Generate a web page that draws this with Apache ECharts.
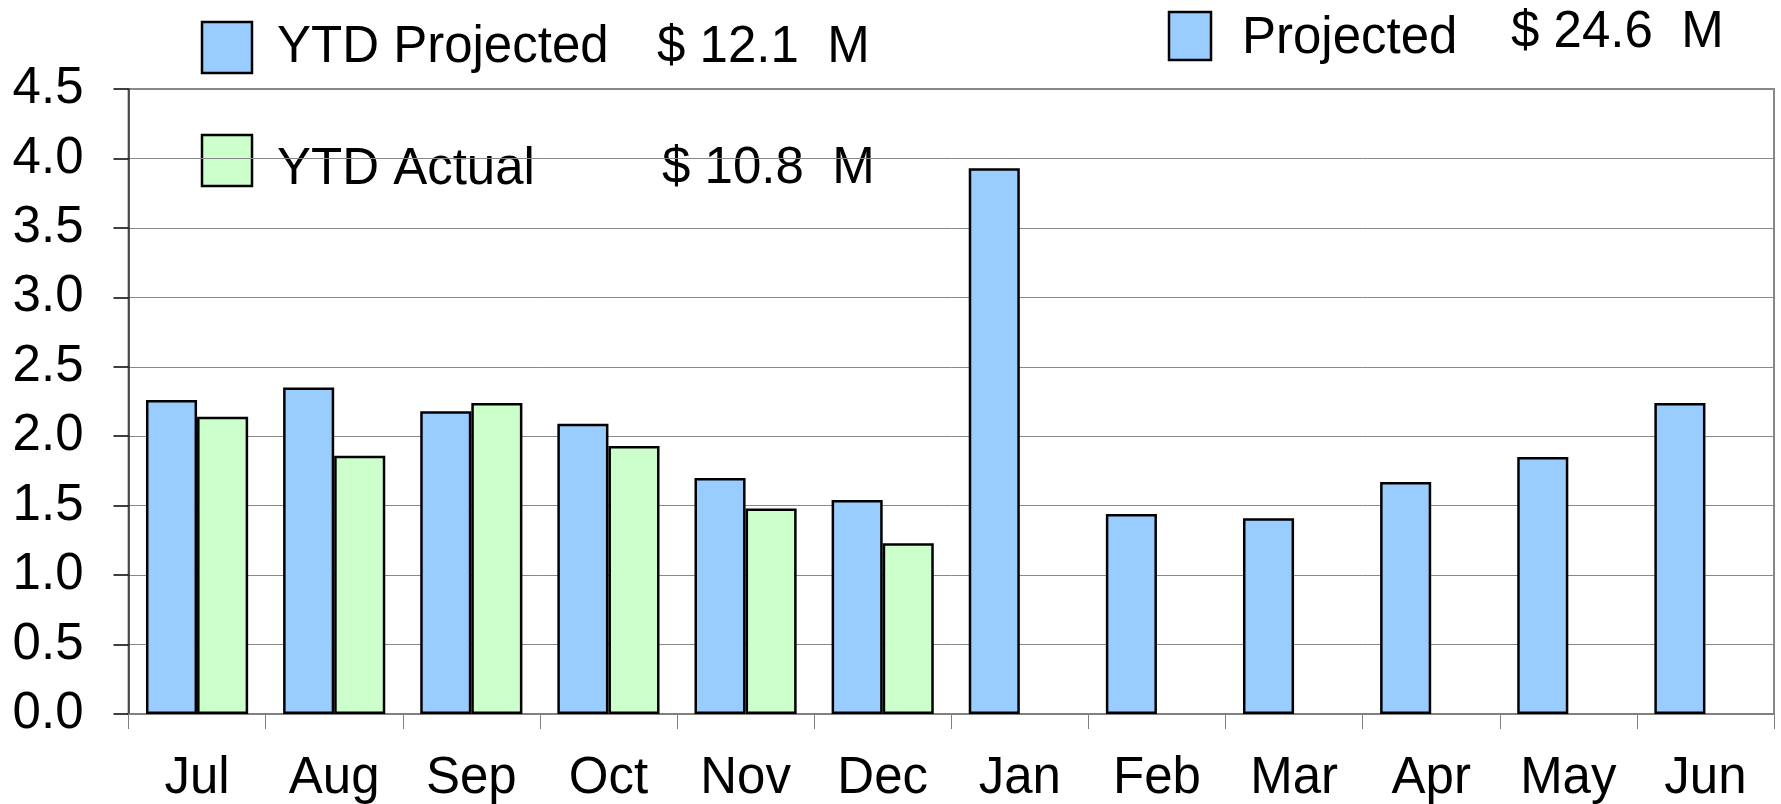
<!DOCTYPE html>
<html>
<head>
<meta charset="utf-8">
<script src="https://cdn.jsdelivr.net/npm/echarts@6/dist/echarts.min.js"></script>
<style>
html,body{margin:0;padding:0;background:#fff;}
#chart{width:1781px;height:804px;}
</style>
</head>
<body>
<div id="chart"></div>
<script>
const categories = ['Jul','Aug','Sep','Oct','Nov','Dec','Jan','Feb','Mar','Apr','May','Jun'];
const projected = [2.26, 2.35, 2.18, 2.09, 1.70, 1.54, 3.93, 1.44, 1.41, 1.67, 1.85, 2.24];
const actual = [2.14, 1.86, 2.24, 1.93, 1.48, 1.23, null, null, null, null, null, null];
const seriesNames = ['YTD Projected', 'YTD Actual'];
const legendLabels = ['YTD Projected', 'YTD Actual', 'Projected'];
const legendTotals = ['$ 12.1  M', '$ 10.8  M', '$ 24.6  M'];
const yTicks = [0, 0.5, 1.0, 1.5, 2.0, 2.5, 3.0, 3.5, 4.0, 4.5];

const FONT = '"Liberation Sans", Arial, sans-serif';
const blue = '#99CCFF', green = '#CCFFCC';

const chart = echarts.init(document.getElementById('chart'));

function box(x, y, w, h, color) {
  return { type: 'rect', shape: { x: x, y: y, width: w, height: h },
    style: { fill: color, stroke: '#000', lineWidth: 2.5 } };
}
function txt(x, y, s) {
  return { type: 'text', x: x, y: y,
    style: { text: s, fill: '#000', font: '51px ' + FONT, textVerticalAlign: 'middle', textAlign: 'left' } };
}

chart.setOption({
  animation: false,
  backgroundColor: '#fff',
  grid: { left: 128.5, right: 7, top: 89, bottom: 87, show: true, borderColor: '#888', borderWidth: 2 },
  xAxis: {
    type: 'category',
    data: categories,
    boundaryGap: true,
    axisLine: { show: true, lineStyle: { color: '#808080', width: 2 } },
    axisTick: { show: true, alignWithLabel: false, length: 15, lineStyle: { color: '#808080', width: 1 } },
    axisLabel: { color: '#000', fontSize: 51, fontFamily: FONT, margin: 39, interval: 0 },
    splitLine: { show: false }
  },
  yAxis: {
    type: 'value',
    min: yTicks[0],
    max: yTicks[yTicks.length - 1],
    interval: 0.5,
    axisLine: { show: true, lineStyle: { color: '#333', width: 1.5 } },
    axisTick: { show: true, inside: false, length: 15, lineStyle: { color: '#000', width: 1.5 } },
    axisLabel: { color: '#000', fontSize: 51, fontFamily: FONT, margin: 45,
      formatter: v => v.toFixed(1) },
    splitLine: { show: true, lineStyle: { color: '#888', width: 1 } }
  },
  series: [
    { name: seriesNames[0], type: 'bar', data: projected, barGap: '0%', barCategoryGap: '25.5%',
      itemStyle: { color: blue, borderColor: '#000', borderWidth: 2.5 } },
    { name: seriesNames[1], type: 'bar', data: actual, barGap: '0%', barCategoryGap: '25.5%',
      itemStyle: { color: green, borderColor: '#000', borderWidth: 2.5 } }
  ],
  graphic: [
    box(202, 22, 50, 51, blue),
    txt(277, 48, legendLabels[0]),
    txt(657, 48, legendTotals[0]),
    box(202, 135, 50, 51, green),
    txt(277, 170, legendLabels[1]),
    txt(662, 169, legendTotals[1]),
    box(1169, 12, 42, 48, blue),
    txt(1242, 39, legendLabels[2]),
    txt(1511, 33, legendTotals[2])
  ]
});
</script>
</body>
</html>
